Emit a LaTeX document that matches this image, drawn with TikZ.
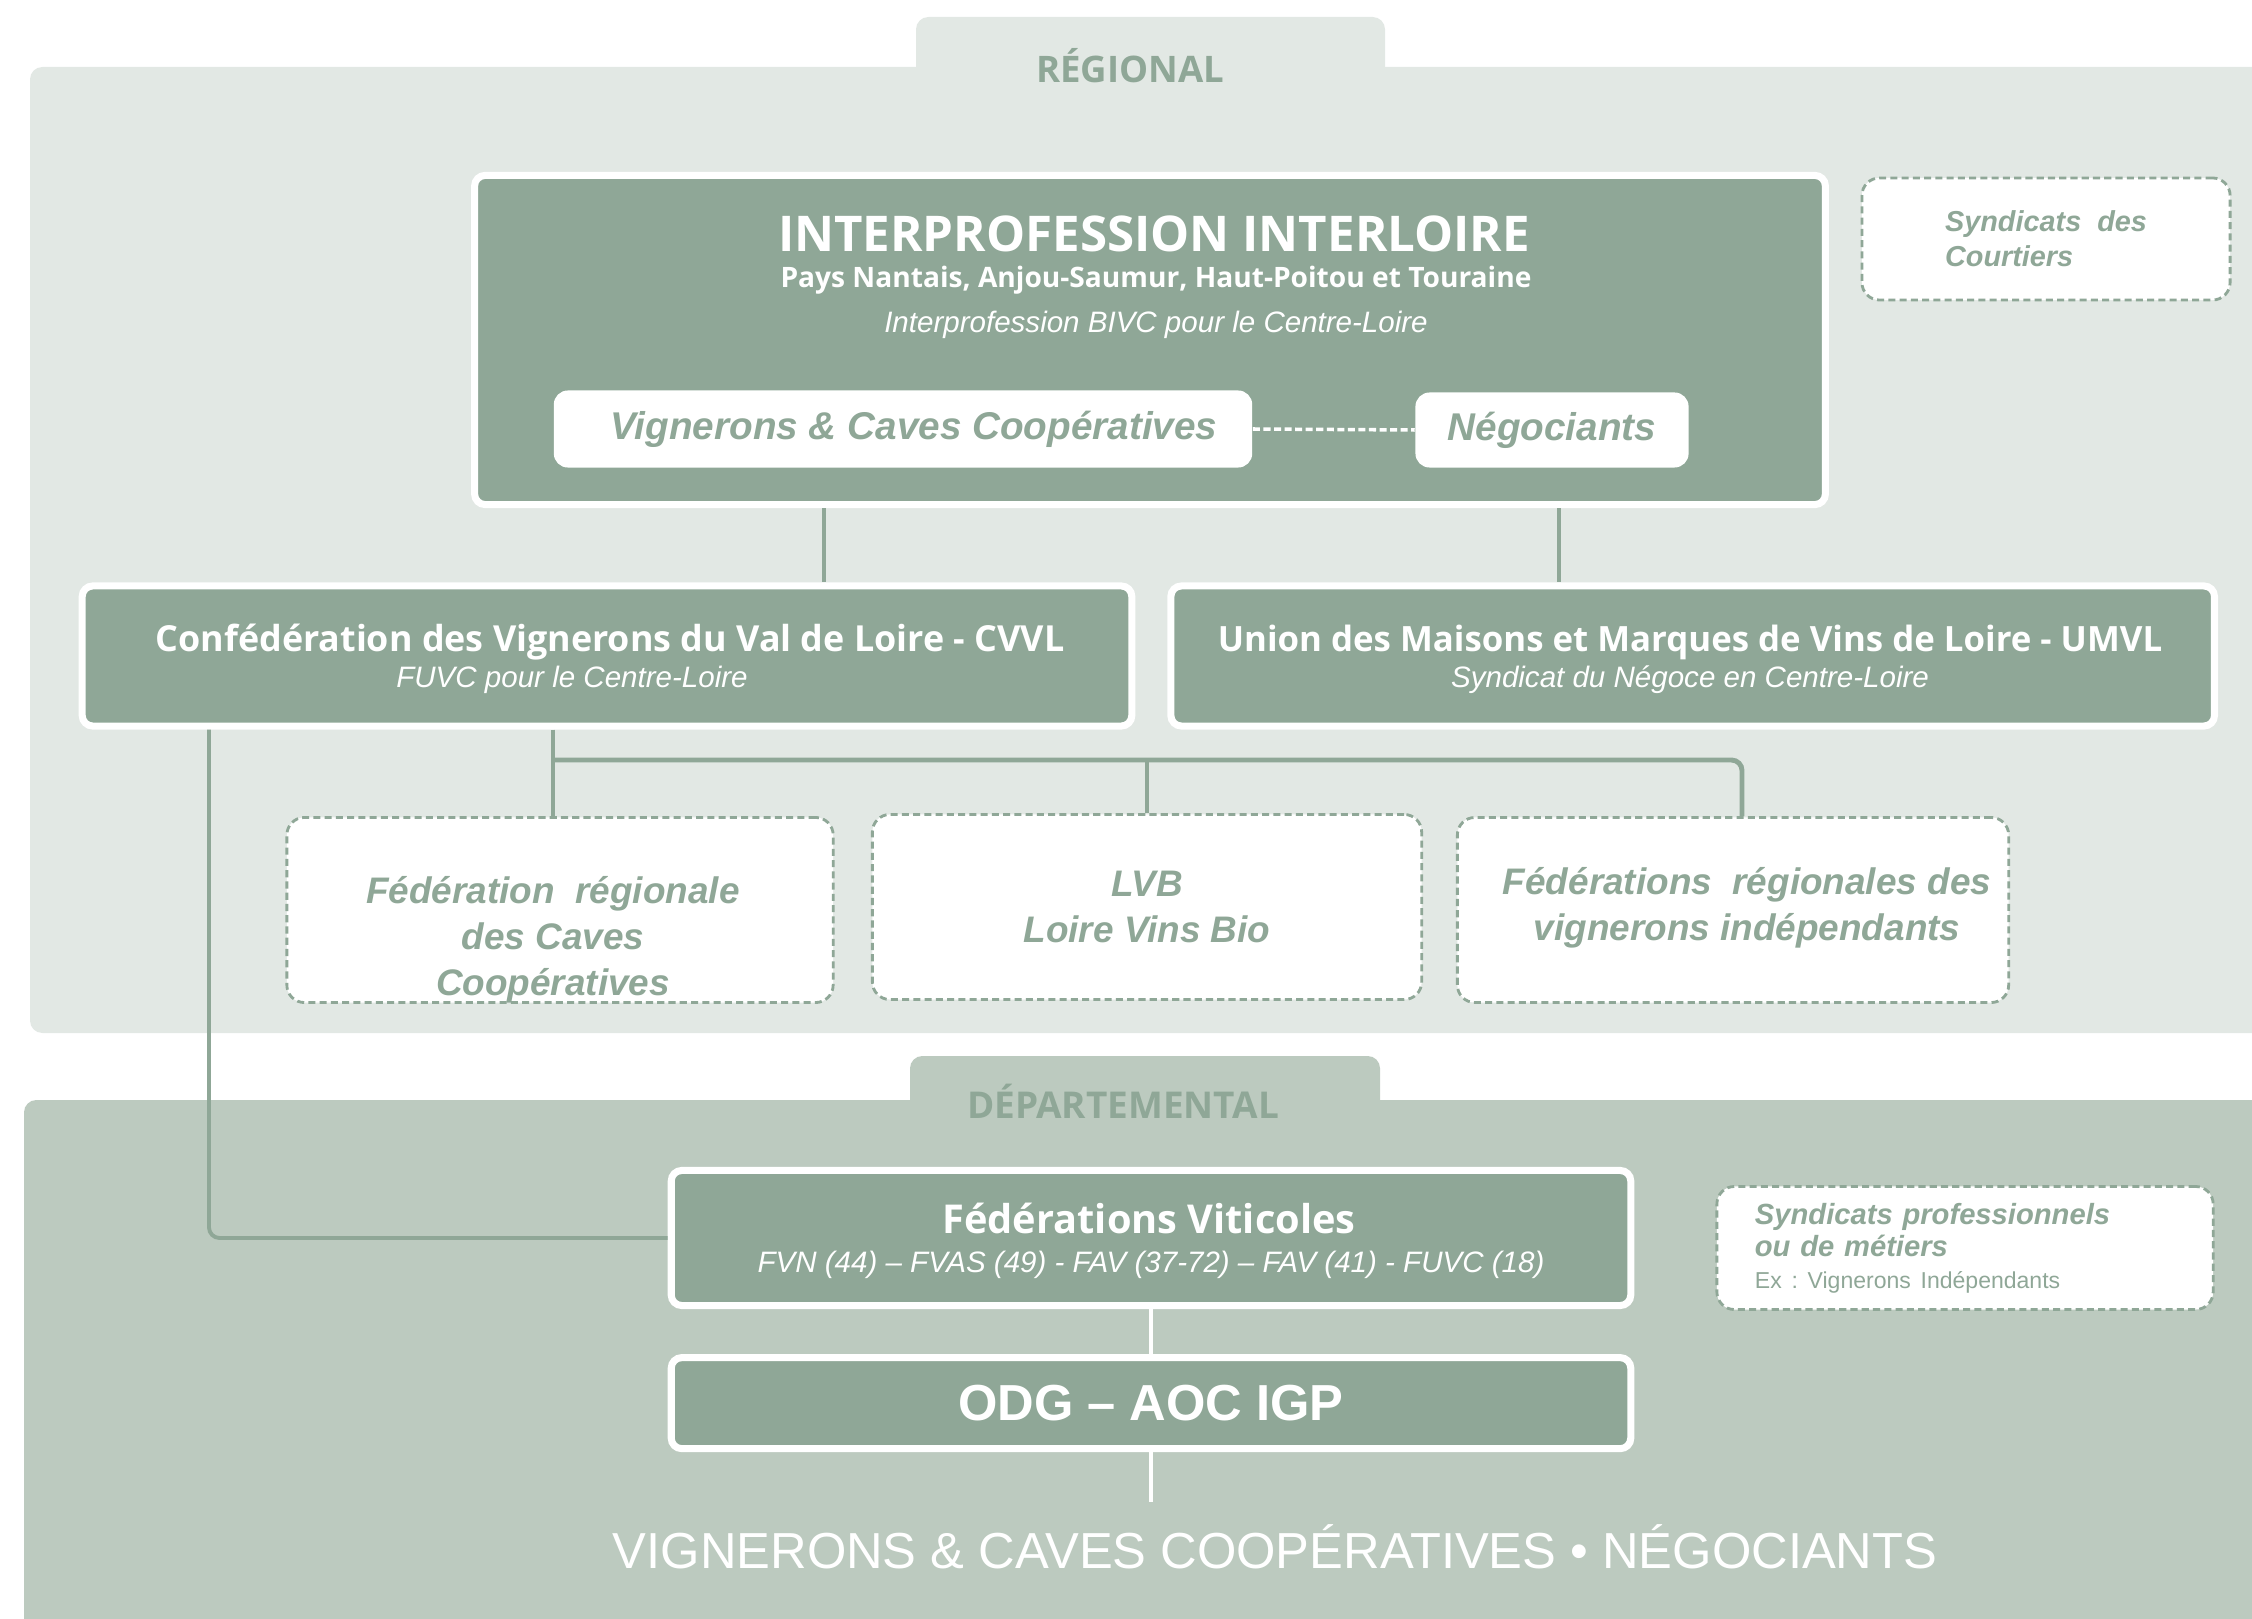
\documentclass[tikz,border=0pt]{standalone}
\usepackage{fontspec}
\setmainfont{Liberation Sans}
\newfontfamily\osfont{Open Sans}
\usetikzlibrary{positioning}
\usetikzlibrary{calc}

\definecolor{sage}{HTML}{8FA797}
\definecolor{regbg}{HTML}{E2E8E4}
\definecolor{depbg}{HTML}{BCCABF}

\tikzset{
  darkbox/.style={draw=white, line width=2pt, fill=sage, rounded corners=3pt, inner sep=0pt},
  dashbox/.style={draw=sage, line width=0.8pt, dash pattern=on 2pt off 1.2pt, fill=white,
                  rounded corners=5pt, text=sage, inner sep=0pt, align=center,
                  font=\bfseries\itshape\fontsize{10.5}{13}\selectfont},
  boxtext/.style={text=sage, inner sep=0pt, align=center, font=\bfseries\itshape\fontsize{10.5}{13}\selectfont},
  whitebox/.style={fill=white, rounded corners=4pt, text=sage, inner sep=0pt,
                   font=\bfseries\itshape\fontsize{11}{13}\selectfont},
  link/.style={draw=sage, line width=1.1pt},
  thinlink/.style={draw=sage, line width=1pt},
  wlink/.style={draw=white, line width=1pt},
  ttl/.style={text=white, inner sep=0pt, anchor=base, font=\osfont\bfseries\fontsize{#1}{#1}\selectfont},
  subline/.style={text=white, inner sep=0pt, anchor=base, font=\itshape\fontsize{8.4}{10}\selectfont},
  tab/.style={text=sage, inner sep=0pt, anchor=base, font=\osfont\bfseries\fontsize{#1}{#1}\selectfont},
}

\begin{document}
\begin{tikzpicture}[x=0.01cm, y=-0.01cm]
  \useasboundingbox (0,0) rectangle (2252,1619);
  \clip (0,0) rectangle (2252,1619);

  % regional level
  \fill[regbg, rounded corners=3.5pt] (916,17) rectangle (1385,120);
  \fill[regbg, rounded corners=3.5pt] (30,67) rectangle (2300,1033);
  \node[tab=10.4] (reg) at (1130,83) {RÉGIONAL};

  % departemental level
  \fill[depbg, rounded corners=3.5pt] (910,1056) rectangle (1380,1150);
  \fill[depbg, rounded corners=3.5pt] (24,1100) rectangle (2300,1700);
  \node[tab=10.5] (dep) at (1123,1118) {DÉPARTEMENTAL};

  % interprofession
  \node[darkbox, minimum width=13.5cm, minimum height=3.29cm] (interloire) at (1150,340) {};
  \node[ttl=14] (il-title) at (1154,252) {INTERPROFESSION INTERLOIRE};
  \node[ttl=8] (il-region) at (1156,288) {Pays Nantais, Anjou-Saumur, Haut-Poitou et Touraine};
  \node[subline] (il-bivc) at (1156,333) {Interprofession BIVC pour le Centre-Loire};
  \node[whitebox, minimum width=6.98cm, minimum height=0.77cm] (vcc) at (903,429) {\hspace*{0.22cm}Vignerons \& Caves Coopératives};
  \node[whitebox, minimum width=2.73cm, minimum height=0.75cm] (nego) at (1552,430) {Négociants};
  \draw[white, line width=1pt, dash pattern=on 2pt off 1pt] (vcc.east) -- (nego.west);

  \node[dashbox, align=left, minimum width=3.68cm, minimum height=1.22cm,
        font=\bfseries\itshape\fontsize{8.2}{10}\selectfont] (courtiers) at (2046,239) {Syndicats\ \ des\\Courtiers};

  % syndicats regionaux
  \node[darkbox, minimum width=10.49cm, minimum height=1.40cm] (cvvl) at (607,656) {};
  \node[darkbox, minimum width=10.43cm, minimum height=1.40cm] (umvl) [right=0.32cm of cvvl] {};
  \node[ttl=10.2] (cvvl-t) at (610,651) {Confédération des Vignerons du Val de Loire - CVVL};
  \node[subline] (cvvl-s) at (572,687) {FUVC pour le Centre-Loire};
  \node[ttl=9.9] (umvl-t) at (1690,651) {Union des Maisons et Marques de Vins de Loire - UMVL};
  \node[subline] (umvl-s) at (1690,687) {Syndicat du Négoce en Centre-Loire};

  \coordinate (dropl) at (824,0);
  \coordinate (dropr) at (1559,0);
  \draw[thinlink] (interloire.south -| dropl) -- (cvvl.north -| dropl);
  \draw[thinlink] (interloire.south -| dropr) -- (umvl.north -| dropr);

  % federations regionales
  \node[dashbox, minimum width=5.46cm, minimum height=1.85cm] (fcc) at (560,910) {};
  \node[boxtext] (fcc-t) at (553,940) {Fédération\ \ régionale\\des Caves\\Coopératives};
  \node[dashbox, minimum width=5.49cm, minimum height=1.85cm] (lvb) at (1147,907) {LVB\\Loire Vins Bio};
  \node[dashbox, minimum width=5.51cm, minimum height=1.85cm] (fvi) at (1733,910) {};
  \node[boxtext] (fvi-t) at (1747,908) {Fédérations\ \ régionales des\\vignerons indépendants};

  \coordinate (bus) at (0,760);
  \coordinate (busr) at (1742,0);
  \draw[link] (cvvl.south -| fcc-t) -- (fcc.north -| fcc-t);
  \draw[link, line width=1.4pt, rounded corners=3pt] (bus -| fcc-t) -- (bus -| busr) -- (fvi.north -| busr);
  \draw[link] (bus -| lvb) -- (lvb.north);

  % departemental
  \node[darkbox, minimum width=9.59cm, minimum height=1.35cm] (fedvit) at (1151,1238) {};
  \node[ttl=11.3] (fedvit-t) at (1149,1233) {Fédérations Viticoles};
  \node[subline] (fedvit-s) at (1151,1272) {FVN (44) – FVAS (49) - FAV (37-72) – FAV (41) - FUVC (18)};
  \node[darkbox, minimum width=9.59cm, minimum height=0.91cm, text=white,
        font=\bfseries\fontsize{14.4}{16}\selectfont] (odg) [below=0.45cm of fedvit] {ODG – AOC IGP};

  \node[dashbox, align=left, text width=4.2cm, minimum width=4.96cm, minimum height=1.23cm,
        font=\bfseries\itshape\fontsize{8.3}{9.1}\selectfont] (spm) at (1965,1248)
        {Syndicats professionnels\\ou de métiers\\{\normalfont\fontsize{6.55}{9.1}\selectfont Ex :\ Vignerons Indépendants}};

  \coordinate (side) at (209,0);
  \draw[link, rounded corners=3pt] (cvvl.south -| side) |- (fedvit.west);

  \coordinate (stem) at (1151,1502);
  \draw[wlink] (fedvit.south) -- (odg.north);
  \draw[wlink] (odg.south) -- (odg.south |- stem);
  \node[text=white, inner sep=0pt, anchor=base, font=\fontsize{14.4}{16}\selectfont] (base) at (1275,1568)
        {VIGNERONS \& CAVES COOPÉRATIVES • NÉGOCIANTS};
\end{tikzpicture}
\end{document}
